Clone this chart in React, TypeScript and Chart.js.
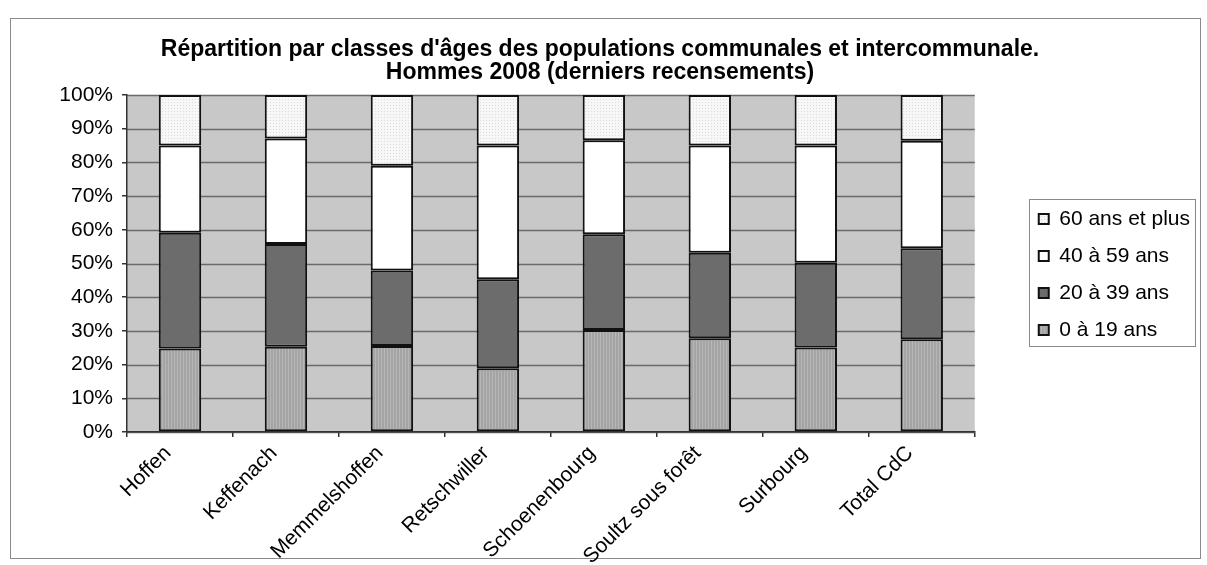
import React, { useEffect, useRef } from 'react';
import { Chart, registerables } from 'chart.js';

Chart.register(...registerables);

const categories = [
  'Hoffen',
  'Keffenach',
  'Memmelshoffen',
  'Retschwiller',
  'Schoenenbourg',
  'Soultz sous forêt',
  'Surbourg',
  'Total CdC',
];
const seriesLabels = ['0 à 19 ans', '20 à 39 ans', '40 à 59 ans', '60 ans et plus'];
const age0to19 = [24.8, 25.3, 25.5, 18.9, 30.3, 27.8, 25.1, 27.5];
const age20to39 = [34.3, 30.5, 22.4, 26.4, 28.4, 25.4, 25.1, 27.0];
const age40to59 = [25.9, 31.3, 31.1, 39.7, 27.9, 31.8, 34.8, 31.9];
const age60plus = [15.0, 12.9, 21.0, 15.0, 13.4, 15.0, 15.0, 13.6];
const titleLines = [
  "Répartition par classes d'âges des populations communales et intercommunale.",
  'Hommes 2008 (derniers recensements)',
];

const FONT = '"Liberation Sans", Arial, sans-serif';

function makePattern(base: string, mark: string, kind: 'stripes' | 'dots'): CanvasPattern | string {
  const c = document.createElement('canvas');
  c.width = 3;
  c.height = 3;
  const g = c.getContext('2d');
  if (!g) return base;
  g.fillStyle = base;
  g.fillRect(0, 0, 3, 3);
  g.fillStyle = mark;
  if (kind === 'stripes') {
    g.fillRect(0, 0, 1, 3);
  } else {
    g.fillRect(0, 0, 1, 1);
  }
  const p = g.createPattern(c, 'repeat');
  return p || base;
}

export default function App() {
  const ref = useRef<HTMLCanvasElement>(null);

  useEffect(() => {
    const canvas = ref.current;
    if (!canvas) return;

    const youngFill = makePattern('#a4a4a4', '#b6b6b6', 'stripes');
    const oldFill = makePattern('#f7f7f7', '#dcdcdc', 'dots');

    const backgroundPlugin = {
      id: 'excelBackground',
      beforeDraw(chart: any) {
        const { ctx, chartArea: a, scales } = chart;
        ctx.save();
        ctx.fillStyle = '#ffffff';
        ctx.fillRect(0, 0, chart.width, chart.height);
        ctx.strokeStyle = '#8a8a8a';
        ctx.lineWidth = 1;
        ctx.strokeRect(10.5, 18.5, 1190, 540);
        ctx.fillStyle = '#c8c8c8';
        ctx.fillRect(a.left, a.top, a.right - a.left, a.bottom - a.top);
        ctx.strokeStyle = '#6a6a6a';
        ctx.lineWidth = 1.5;
        const y = scales.y;
        y.ticks.forEach((t: any) => {
          const py = Math.round(y.getPixelForValue(t.value)) + 0.5;
          ctx.beginPath();
          ctx.moveTo(a.left, py);
          ctx.lineTo(a.right, py);
          ctx.stroke();
        });
        ctx.restore();
      },
      afterDraw(chart: any) {
        const lg = chart.legend;
        if (!lg || !lg.legendHitBoxes || !lg.legendHitBoxes.length) return;
        const hb = lg.legendHitBoxes;
        const first = hb[0];
        const last = hb[hb.length - 1];
        const { ctx } = chart;
        ctx.save();
        ctx.strokeStyle = '#8a8a8a';
        ctx.lineWidth = 1;
        const left = Math.round(first.left - 10) + 0.5;
        const top = Math.round(first.top - 10) + 0.5;
        const right = 1195.5;
        const bottom = Math.round(last.top + last.height + 5) + 0.5;
        ctx.strokeRect(left, top, right - left, bottom - top);
        ctx.restore();
      },
    };

    const chart = new Chart(canvas, {
      type: 'bar',
      data: {
        labels: categories,
        datasets: [
          { label: seriesLabels[0], data: age0to19, backgroundColor: youngFill as any },
          { label: seriesLabels[1], data: age20to39, backgroundColor: '#6c6c6c' },
          { label: seriesLabels[2], data: age40to59, backgroundColor: '#ffffff' },
          { label: seriesLabels[3], data: age60plus, backgroundColor: oldFill as any },
        ].map((d) => ({
          ...d,
          borderColor: '#111111',
          borderWidth: 2,
          borderSkipped: false,
          barPercentage: 0.4,
          categoryPercentage: 1.0,
        })),
      },
      options: {
        animation: false,
        responsive: true,
        maintainAspectRatio: false,
        layout: { padding: { left: 0, right: 7, top: 0, bottom: 0 } },
        plugins: {
          title: {
            display: true,
            text: titleLines,
            color: '#000000',
            font: { family: FONT, size: 23, weight: 'bold', lineHeight: 1.0 },
            padding: { top: 38.5, bottom: 10.5 },
          },
          legend: {
            display: true,
            position: 'right',
            fullSize: false,
            reverse: true,
            title: {
              display: true,
              text: '',
              font: { family: FONT, size: 10, lineHeight: 1 },
              padding: { top: 6, bottom: 6 },
            },
            labels: {
              color: '#000000',
              font: { family: FONT, size: 21 },
              boxWidth: 10,
              boxHeight: 10,
              padding: 16,
            },
          },
          tooltip: { enabled: false },
        },
        scales: {
          x: {
            stacked: true,
            offset: true,
            grid: {
              display: true,
              offset: true,
              drawOnChartArea: false,
              drawTicks: true,
              tickLength: 5,
              color: '#333333',
              lineWidth: 1.5,
            },
            border: { display: true, color: '#333333', width: 1.5 },
            ticks: {
              autoSkip: false,
              maxRotation: 45,
              minRotation: 45,
              padding: 4,
              labelOffset: -12,
              color: '#000000',
              font: { family: FONT, size: 21 },
            },
            afterFit: (s: any) => {
              s.height = 133;
            },
          },
          y: {
            stacked: true,
            min: 0,
            max: 100,
            grid: {
              display: true,
              drawOnChartArea: false,
              drawTicks: true,
              tickLength: 5,
              color: '#333333',
              lineWidth: 1.5,
            },
            border: { display: true, color: '#333333', width: 1.5 },
            ticks: {
              stepSize: 10,
              padding: 9,
              color: '#000000',
              font: { family: FONT, size: 21 },
              callback: (v: any) => `${v}%`,
            },
            afterFit: (s: any) => {
              s.width = 127;
            },
          },
          spacer: {
            type: 'linear',
            position: 'right',
            display: true,
            grid: { display: false, drawTicks: false },
            border: { display: false },
            ticks: { display: false },
            afterFit: (s: any) => {
              s.width = 48;
            },
          },
        },
      } as any,
      plugins: [backgroundPlugin],
    });

    return () => {
      chart.destroy();
    };
  }, []);

  return (
    <div style={{ position: 'absolute', left: 0, top: 0, width: 1207, height: 565, background: '#ffffff' }}>
      <canvas ref={ref} />
    </div>
  );
}
